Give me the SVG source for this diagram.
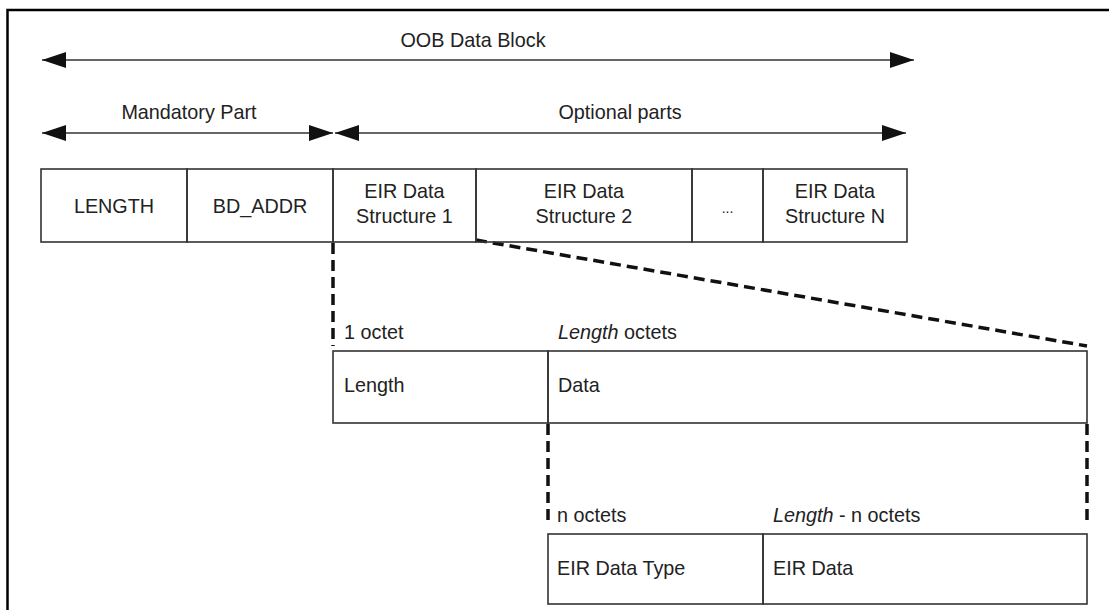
<svg xmlns="http://www.w3.org/2000/svg" width="1109" height="610" viewBox="0 0 1109 610">
<style>
text{font-family:"Liberation Sans",Arial,sans-serif;font-size:19.8px;fill:#222}
.c{text-anchor:middle}
.box{fill:none;stroke:#333;stroke-width:1.6}
.arr{stroke:#333;stroke-width:1.6;fill:none}
.dash{stroke:#111;stroke-width:3.5;fill:none;stroke-dasharray:11 6}
</style>
<defs>
<marker id="ah" viewBox="0 0 24 16" refX="24" refY="8" markerWidth="24" markerHeight="16" markerUnits="userSpaceOnUse" orient="auto-start-reverse">
<path d="M0,0 L24,8 L0,16 Z" fill="#111"/>
</marker>
</defs>
<g id="frame">
<path d="M7.5,610 V10 H1109" fill="none" stroke="#000" stroke-width="2.5"/>
</g>
<g id="connectors">
<line class="arr" x1="42" y1="60" x2="914" y2="60" marker-start="url(#ah)" marker-end="url(#ah)"/>
<line class="arr" x1="42" y1="133" x2="333" y2="133" marker-start="url(#ah)" marker-end="url(#ah)"/>
<line class="arr" x1="335" y1="133" x2="906" y2="133" marker-start="url(#ah)" marker-end="url(#ah)"/>
<line class="dash" x1="333" y1="243" x2="333" y2="346"/>
<line class="dash" x1="476" y1="240" x2="1087" y2="346"/>
<line class="dash" x1="548" y1="424" x2="548" y2="526"/>
<line class="dash" x1="1087" y1="424" x2="1087" y2="526"/>
</g>
<g id="labels">
<text class="c" x="473" y="47">OOB Data Block</text>
<text class="c" x="189" y="119">Mandatory Part</text>
<text class="c" x="620" y="119">Optional parts</text>
</g>
<g id="length"><rect class="box" x="41" y="169" width="146" height="73"/><text class="c" x="114" y="213">LENGTH</text></g>
<g id="bd_addr"><rect class="box" x="187" y="169" width="146" height="73"/><text class="c" x="260" y="213">BD_ADDR</text></g>
<g id="eir1"><rect class="box" x="333" y="169" width="143" height="73"/><text class="c" x="404.5" y="198">EIR Data</text><text class="c" x="404.5" y="223">Structure 1</text></g>
<g id="eir2"><rect class="box" x="476" y="169" width="216" height="73"/><text class="c" x="584" y="198">EIR Data</text><text class="c" x="584" y="223">Structure 2</text></g>
<g id="dots"><rect class="box" x="692" y="169" width="71" height="73"/><text class="c" x="727.5" y="213" style="font-size:14px">...</text></g>
<g id="eirn"><rect class="box" x="763" y="169" width="144" height="73"/><text class="c" x="835" y="198">EIR Data</text><text class="c" x="835" y="223">Structure N</text></g>
<g id="octet-labels">
<text x="344" y="339">1 octet</text>
<text x="558" y="339"><tspan font-style="italic">Length</tspan> octets</text>
</g>
<g id="len-field"><rect class="box" x="333" y="351" width="215" height="72"/><text x="344" y="392">Length</text></g>
<g id="data-field"><rect class="box" x="548" y="351" width="539" height="72"/><text x="558" y="392">Data</text></g>
<g id="octet-labels2">
<text x="557" y="522">n octets</text>
<text x="773" y="522"><tspan font-style="italic">Length</tspan> - n octets</text>
</g>
<g id="type-field"><rect class="box" x="548" y="534" width="215" height="70"/><text x="557" y="575">EIR Data Type</text></g>
<g id="eirdata-field"><rect class="box" x="763" y="534" width="324" height="70"/><text x="773" y="575">EIR Data</text></g>
</svg>
